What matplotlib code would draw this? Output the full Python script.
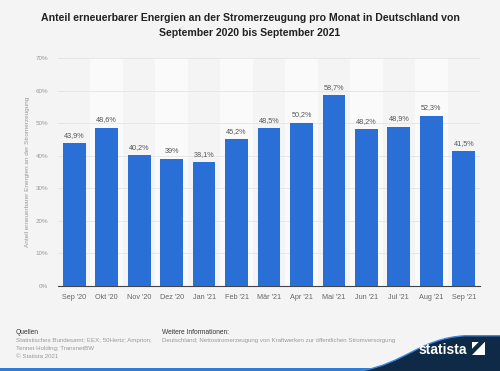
import matplotlib.pyplot as plt
import matplotlib.patches as patches
from matplotlib.path import Path

months = ["Sep '20", "Okt '20", "Nov '20", "Dez '20", "Jan '21", "Feb '21", "Mär '21",
          "Apr '21", "Mai '21", "Jun '21", "Jul '21", "Aug '21", "Sep '21"]
share = [43.9, 48.6, 40.2, 39.0, 38.1, 45.2, 48.5, 50.2, 58.7, 48.2, 48.9, 52.3, 41.5]
yticks = [0, 10, 20, 30, 40, 50, 60, 70]

title = ("Anteil erneuerbarer Energien an der Stromerzeugung pro Monat in Deutschland von\n"
         "September 2020 bis September 2021")
ylabel = "Anteil erneuerbarer Energien an der Stromerzeugung"

plt.rcParams['font.family'] = ['Liberation Sans', 'DejaVu Sans']

bg = '#f4f4f4'
navy = '#0e2a47'
fig = plt.figure(figsize=(5, 3.71), dpi=100, facecolor=bg)
ax = fig.add_axes([0.116, 0.229, 0.844, 0.6146])
ax.set_facecolor(bg)

# abwechselnde helle Streifen
for i in range(len(months)):
    if i % 2 == 1:
        ax.axvspan(i - 0.5, i + 0.5, color='#fafafa', zorder=0, lw=0)

x = list(range(len(months)))
ax.bar(x, share, width=0.7, color='#2a6fd6', zorder=3)

def fmt(v):
    s = f"{v:.1f}".replace('.', ',')
    if s.endswith(',0'):
        s = s[:-2]
    return s + '%'

for xi, v in zip(x, share):
    ax.text(xi, v + 1.3, fmt(v), ha='center', va='bottom', fontsize=5.2, color='#555555', zorder=4)

ax.set_xlim(-0.5, len(months) - 0.5)
ax.set_ylim(0, 70)
ax.set_yticks(yticks)
ax.set_yticklabels([f"{t}%" for t in yticks])
ax.set_xticks(x)
ax.set_xticklabels(months)
ax.tick_params(axis='y', length=0, labelsize=4.5, labelcolor='#999999', pad=7)
ax.tick_params(axis='x', length=0, labelsize=5.2, labelcolor='#666666', pad=6)
ax.grid(axis='y', color='#e4e4e4', lw=0.6, zorder=1)
for s in ['top', 'right', 'left']:
    ax.spines[s].set_visible(False)
ax.spines['bottom'].set_color('#444444')
ax.spines['bottom'].set_linewidth(0.8)
ax.set_ylabel(ylabel, fontsize=4.6, color='#999999', labelpad=4)

fig.text(0.5, 0.964, title, ha='center', va='top', fontsize=7.6, fontweight='bold',
         color='#222222', linespacing=1.6)

# Fußzeile
fig.text(0.032, 0.105, "Quellen", fontsize=4.8, color='#333333', va='center')
fig.text(0.032, 0.081, "Statistisches Bundesamt; EEX; 50Hertz; Amprion;", fontsize=4.4,
         color='#999999', va='center')
fig.text(0.032, 0.061, "Tennet Holding; TransnetBW", fontsize=4.4, color='#999999', va='center')
fig.text(0.032, 0.040, "© Statista 2021", fontsize=4.4, color='#999999', va='center')
fig.text(0.324, 0.105, "Weitere Informationen:", fontsize=4.8, color='#333333', va='center')
fig.text(0.324, 0.081, "Deutschland; Nettostromerzeugung von Kraftwerken zur öffentlichen Stromversorgung",
         fontsize=4.4, color='#999999', va='center')

# blauer Streifen unten und Logo-Bogen
fig.patches.append(patches.Rectangle((0, 0), 1, 0.009, transform=fig.transFigure,
                                     facecolor='#2f7bd8', edgecolor='none'))
edge = [(0.72, 0.0), (0.81, 0.02), (0.84, 0.088), (0.93, 0.095), (1.0, 0.095)]
verts = edge + [(1.0, 0.0), (0.72, 0.0)]
codes = [Path.MOVETO, Path.CURVE4, Path.CURVE4, Path.CURVE4, Path.LINETO, Path.LINETO, Path.CLOSEPOLY]
fig.patches.append(patches.PathPatch(Path(verts, codes), transform=fig.transFigure,
                                     facecolor=navy, edgecolor='none'))
fig.patches.append(patches.PathPatch(Path(edge, codes[:5]), transform=fig.transFigure,
                                     facecolor='none', edgecolor='#3d86e0', lw=1.0))
fig.text(0.885, 0.038, "statista", fontsize=10, fontweight='bold', color='white',
         ha='center', va='bottom')
fig.patches.append(patches.Rectangle((0.944, 0.043), 0.026, 0.036, transform=fig.transFigure,
                                     facecolor='white', edgecolor='none'))
fig.patches.append(patches.Polygon([(0.944, 0.043), (0.970, 0.079), (0.958, 0.079), (0.944, 0.060)],
                                   closed=True, transform=fig.transFigure,
                                   facecolor=navy, edgecolor='none'))

fig.savefig('out.png', dpi=100, facecolor=bg)
